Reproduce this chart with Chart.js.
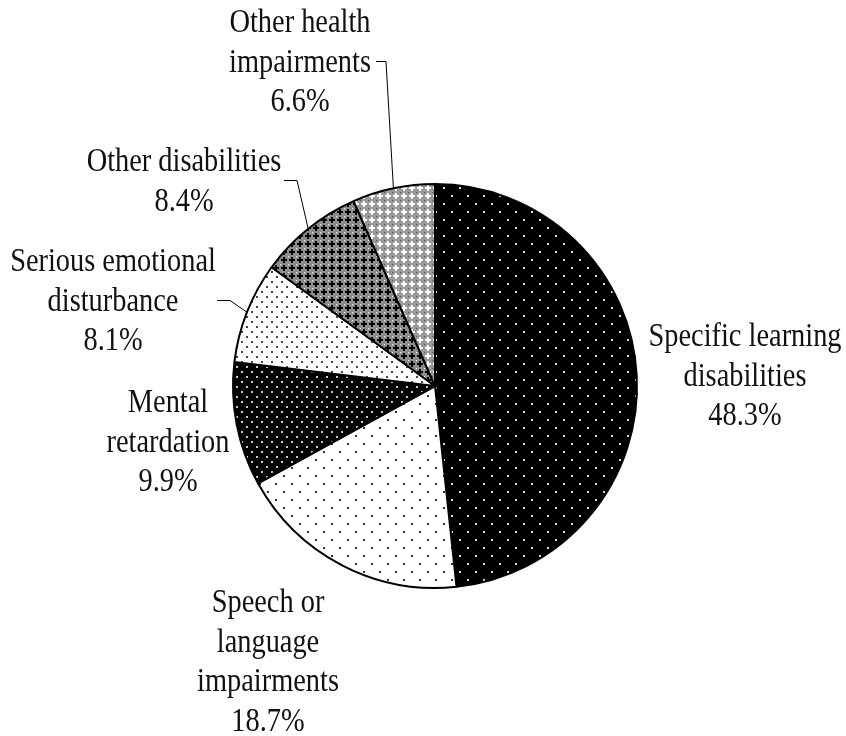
<!DOCTYPE html>
<html>
<head>
<meta charset="utf-8">
<script src="https://cdn.jsdelivr.net/npm/chart.js@4.4.1/dist/chart.umd.min.js"></script>
<style>
    html, body { margin: 0; padding: 0; background: #fff; }
    #wrap { width: 846px; height: 736px; }
</style>
</head>
<body>
<div id="wrap"><canvas id="pie" width="846" height="736"></canvas></div>
<script>
// Disability categories, clockwise from 12 o'clock
const categories = [
    'Specific learning disabilities',
    'Speech or language impairments',
    'Mental retardation',
    'Serious emotional disturbance',
    'Other disabilities',
    'Other health impairments'
];
const shares = [48.3, 18.7, 9.9, 8.1, 8.4, 6.6];
const labelLines = [
    ['Specific learning', 'disabilities'],
    ['Speech or', 'language', 'impairments'],
    ['Mental', 'retardation'],
    ['Serious emotional', 'disturbance'],
    ['Other disabilities'],
    ['Other health', 'impairments']
];

// where each label block sits (center x, first baseline) and its leader elbow, if any
const labelSpots = [
    { x: 745, y: 346 },
    { x: 268, y: 612 },
    { x: 168, y: 412 },
    { x: 113, y: 271, leader: [[217, 300], [230, 300]] },
    { x: 184, y: 171, leader: [[284, 180], [297, 180]] },
    { x: 300, y: 32,  leader: [[376, 61], [386, 61]] }
];
const LINE_H = 39.5;
const SQUEEZE = 0.86;

// small repeating tiles for the grayscale fills
function tile(size, bg, draw) {
    const c = document.createElement('canvas');
    c.width = c.height = size;
    const g = c.getContext('2d');
    g.fillStyle = bg;
    g.fillRect(0, 0, size, size);
    draw(g);
    return g.createPattern(c, 'repeat');
}

const fills = [
    tile(16, '#000', g => { g.fillStyle = '#d8d8d8'; g.fillRect(3, 3, 2, 2); g.fillRect(11, 11, 2, 2); }),
    tile(16, '#fff', g => { g.fillStyle = '#333'; g.fillRect(3, 3, 2, 2); g.fillRect(11, 11, 2, 2); }),
    tile(10, '#000', g => { g.fillStyle = '#c8c8c8'; g.fillRect(1, 1, 2, 2); g.fillRect(6, 6, 2, 2); }),
    tile(10, '#fff', g => { g.fillStyle = '#444'; g.fillRect(1, 1, 2, 2); g.fillRect(6, 6, 2, 2); }),
    tile(8, '#8c8c8c', g => {
        g.fillStyle = '#000'; g.fillRect(3, 1, 2, 6); g.fillRect(1, 3, 6, 2);
        g.fillStyle = '#fff'; g.fillRect(0, 0, 1, 1);
    }),
    tile(8, '#999', g => {
        g.fillStyle = '#fff'; g.fillRect(3, 1, 2, 6); g.fillRect(1, 3, 6, 2);
        g.fillStyle = '#555'; g.fillRect(0, 0, 1, 1);
    })
];

const sliceLabels = {
    id: 'sliceLabels',
    afterDraw(chart) {
        const ctx = chart.ctx;
        const arcs = chart.getDatasetMeta(0).data;
        ctx.save();
        ctx.font = '33px "Liberation Serif", "Times New Roman", serif';
        ctx.fillStyle = '#111';
        ctx.textAlign = 'center';
        ctx.textBaseline = 'alphabetic';

        categories.forEach((cat, i) => {
            const spot = labelSpots[i];
            const lines = [...labelLines[i], shares[i].toFixed(1) + '%'];
            lines.forEach((t, k) => {
                ctx.save();
                ctx.translate(spot.x, spot.y + k * LINE_H);
                ctx.scale(SQUEEZE, 1);
                ctx.fillText(t, 0, 0);
                ctx.restore();
            });

            if (spot.leader) {
                const a = arcs[i];
                const mid = (a.startAngle + a.endAngle) / 2;
                const ex = a.x + Math.cos(mid) * a.outerRadius;
                const ey = a.y + Math.sin(mid) * a.outerRadius;
                ctx.beginPath();
                ctx.lineWidth = 1;
                ctx.strokeStyle = '#000';
                ctx.moveTo(spot.leader[0][0], spot.leader[0][1] + 0.5);
                ctx.lineTo(spot.leader[1][0], spot.leader[1][1] + 0.5);
                ctx.lineTo(ex, ey);
                ctx.stroke();
            }
        });
        ctx.restore();
    }
};

new Chart(document.getElementById('pie'), {
    type: 'pie',
    data: {
        labels: categories,
        datasets: [{
            data: shares,
            backgroundColor: fills,
            borderColor: '#000',
            borderWidth: 2,
            radius: 202
        }]
    },
    options: {
        responsive: false,
        animation: false,
        layout: { padding: { left: 200, right: 176, top: 170, bottom: 134 } },
        plugins: {
            legend: { display: false },
            tooltip: { enabled: false }
        }
    },
    plugins: [sliceLabels]
});
</script>
</body>
</html>
